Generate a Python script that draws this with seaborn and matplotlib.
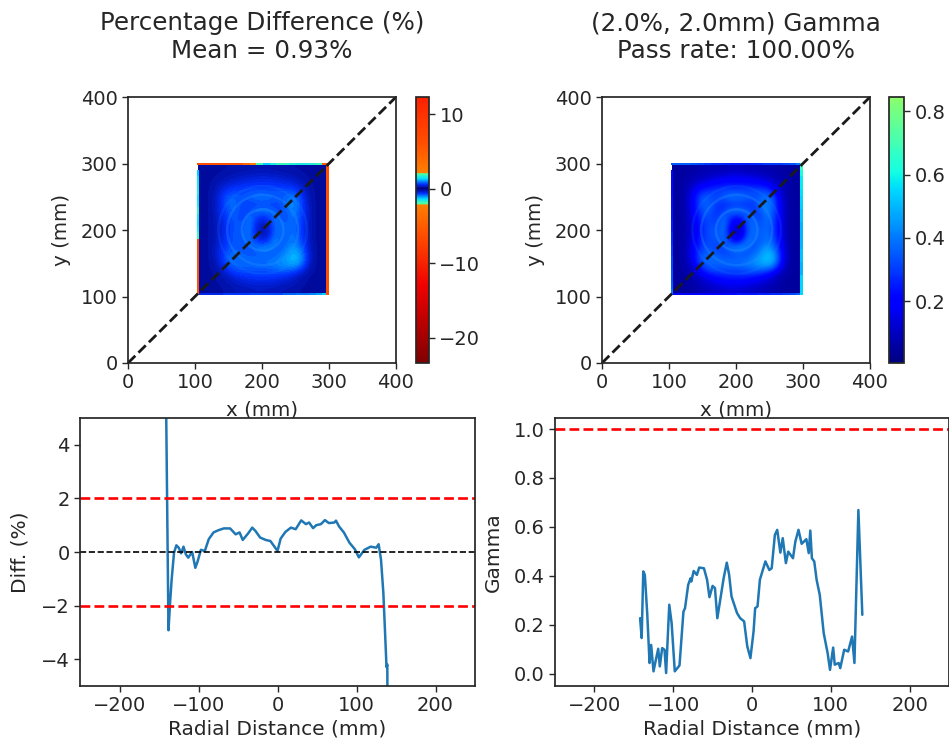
import numpy as np
import pandas as pd
import matplotlib
matplotlib.use("Agg")
import matplotlib.pyplot as plt
from matplotlib.colors import LinearSegmentedColormap
from matplotlib.patches import Circle
import seaborn as sns

sns.set_theme(style="ticks")
plt.rcParams['font.family'] = ['DejaVu Sans']

# radial profiles
diff_x = [-142, -141, -138, -136, -134, -131, -128, -125, -122, -119, -116, -113, -108, -104, -101,
          -97, -92, -87, -81, -75, -68, -60, -53, -48, -44, -37, -32, -28, -22, -15,
          -9, 0, 4, 10, 17, 23, 30, 36, 40, 45, 49, 55, 60, 65, 72,
          74, 78, 84, 91, 98, 103, 110, 118, 125, 128, 131, 134, 136, 138, 139, 140]
diff_y = [12.0, 5.5, -2.92, -1.9, -1.03, -0.03, 0.25, 0.16, -0.05, 0.2, -0.09, -0.21, 0.0, -0.59, -0.34,
          0.08, 0.04, 0.48, 0.73, 0.81, 0.88, 0.88, 0.66, 0.73, 0.45, 0.7, 0.91, 0.79, 0.54, 0.45,
          0.41, 0.04, 0.5, 0.75, 0.91, 0.85, 1.18, 1.04, 1.1, 0.89, 1.0, 1.04, 1.19, 1.08, 1.1,
          1.17, 0.95, 0.73, 0.35, 0.1, -0.2, 0.08, 0.2, 0.16, 0.29, -0.28, -1.53, -2.9, -4.3, -4.2, -12.0]

gamma_x = [-142, -140, -138, -136, -133, -130, -128, -125, -122, -119, -117, -114, -111, -109, -105,
           -102, -98, -92, -89, -87, -85, -81, -78, -77, -74, -70, -67, -61, -57, -54,
           -50, -47, -44, -41, -36, -32, -29, -26, -19, -15, -10, -6, -2, 2, 4,
           7, 10, 17, 22, 25, 29, 32, 36, 39, 43, 46, 52, 55, 59, 63,
           69, 72, 74, 76, 79, 82, 86, 91, 96, 99, 103, 105, 110, 112, 117,
           122, 127, 130, 135, 140]
gamma_y = [0.227, 0.146, 0.418, 0.404, 0.248, 0.044, 0.118, 0.01, 0.057, 0.102, 0.03, 0.105, 0.098, 0.003, 0.282,
           0.207, 0.01, 0.034, 0.166, 0.254, 0.268, 0.363, 0.39, 0.377, 0.42, 0.404, 0.434, 0.431, 0.384, 0.313,
           0.359, 0.35, 0.227, 0.288, 0.39, 0.454, 0.404, 0.316, 0.248, 0.227, 0.214, 0.112, 0.064, 0.173, 0.268,
           0.275, 0.384, 0.459, 0.424, 0.431, 0.567, 0.588, 0.495, 0.554, 0.452, 0.499, 0.472, 0.54, 0.588, 0.531,
           0.55, 0.493, 0.585, 0.472, 0.459, 0.384, 0.322, 0.166, 0.084, 0.016, 0.107, 0.037, 0.044, 0.023, 0.098,
           0.091, 0.152, 0.044, 0.669, 0.241]

# maps, top row is y=300, 10 mm spacing, hundredths
gamma_map = [
    [5, 5, 6, 6, 7, 8, 8, 8, 8, 9, 9, 9, 8, 8, 8, 7, 7, 6, 6, 5, 5],
    [5, 6, 6, 7, 8, 9, 10, 11, 12, 13, 13, 13, 12, 11, 10, 9, 8, 7, 6, 6, 5],
    [5, 6, 7, 9, 11, 13, 15, 17, 19, 20, 20, 20, 19, 18, 16, 14, 11, 8, 7, 6, 5],
    [5, 6, 8, 13, 18, 21, 24, 25, 26, 26, 26, 26, 26, 26, 25, 23, 18, 12, 8, 6, 5],
    [5, 6, 9, 17, 26, 30, 30, 31, 33, 34, 34, 34, 33, 33, 34, 34, 27, 16, 8, 6, 5],
    [5, 6, 10, 20, 31, 36, 33, 32, 34, 38, 38, 37, 35, 33, 36, 40, 35, 20, 9, 6, 5],
    [5, 6, 10, 20, 31, 37, 34, 29, 27, 28, 29, 29, 28, 30, 38, 42, 36, 22, 10, 6, 5],
    [5, 6, 10, 19, 29, 36, 33, 27, 30, 38, 40, 39, 34, 29, 34, 42, 36, 22, 10, 6, 5],
    [5, 6, 9, 18, 26, 33, 31, 29, 38, 30, 24, 28, 38, 32, 31, 39, 34, 22, 10, 6, 5],
    [5, 6, 9, 16, 24, 31, 32, 31, 40, 24, 15, 20, 36, 37, 33, 38, 33, 21, 10, 6, 5],
    [5, 6, 9, 15, 23, 30, 34, 33, 40, 20, 9, 14, 34, 39, 34, 38, 32, 21, 10, 6, 5],
    [5, 6, 9, 16, 24, 30, 34, 34, 38, 22, 11, 16, 36, 38, 35, 39, 33, 22, 10, 6, 5],
    [5, 6, 9, 17, 25, 31, 33, 33, 38, 30, 20, 28, 42, 35, 35, 40, 36, 24, 11, 6, 5],
    [5, 6, 10, 19, 27, 33, 33, 30, 32, 40, 42, 44, 37, 33, 39, 45, 41, 27, 12, 6, 5],
    [5, 6, 10, 20, 30, 36, 36, 34, 31, 32, 35, 34, 33, 38, 44, 50, 48, 32, 13, 6, 5],
    [5, 6, 9, 19, 32, 38, 38, 38, 37, 36, 36, 37, 39, 43, 47, 52, 50, 34, 13, 6, 5],
    [5, 6, 8, 15, 26, 34, 35, 36, 36, 37, 37, 38, 40, 42, 44, 46, 42, 26, 10, 6, 5],
    [5, 6, 7, 10, 18, 26, 30, 30, 30, 30, 30, 31, 32, 33, 32, 29, 23, 14, 8, 6, 5],
    [5, 5, 6, 8, 11, 15, 19, 22, 24, 25, 25, 25, 24, 22, 19, 16, 12, 8, 6, 5, 5],
    [5, 5, 6, 7, 9, 11, 13, 15, 16, 17, 17, 17, 16, 14, 13, 11, 9, 7, 6, 5, 5],
    [5, 5, 5, 6, 7, 9, 10, 11, 12, 13, 13, 12, 11, 10, 9, 8, 7, 6, 5, 5, 5],
]
diff_map = [
    [12, 12, 14, 15, 16, 18, 19, 20, 20, 21, 22, 21, 20, 19, 18, 17, 16, 14, 13, 12, 12],
    [12, 14, 15, 17, 20, 22, 25, 27, 29, 31, 32, 31, 30, 27, 25, 22, 20, 17, 15, 14, 12],
    [12, 14, 17, 22, 27, 32, 37, 41, 45, 47, 48, 48, 46, 43, 39, 34, 27, 20, 16, 14, 12],
    [12, 15, 20, 31, 43, 50, 56, 59, 61, 62, 62, 62, 61, 61, 58, 54, 43, 29, 19, 15, 12],
    [12, 15, 22, 40, 60, 70, 70, 72, 76, 79, 79, 78, 76, 76, 78, 80, 63, 38, 19, 15, 12],
    [12, 15, 24, 46, 72, 84, 77, 74, 79, 88, 88, 86, 81, 77, 84, 94, 82, 46, 21, 15, 12],
    [12, 15, 24, 46, 72, 86, 79, 67, 62, 65, 67, 67, 65, 70, 90, 100, 84, 51, 24, 15, 12],
    [12, 15, 24, 44, 67, 84, 77, 62, 70, 88, 94, 91, 79, 67, 79, 98, 84, 51, 24, 15, 12],
    [12, 15, 22, 42, 60, 77, 72, 67, 88, 70, 55, 65, 88, 74, 72, 91, 79, 51, 24, 15, 12],
    [12, 15, 22, 37, 55, 72, 74, 72, 94, 55, 34, 46, 84, 86, 77, 88, 77, 49, 24, 15, 12],
    [12, 15, 22, 34, 53, 70, 79, 77, 94, 46, 20, 32, 79, 91, 79, 88, 74, 49, 24, 15, 12],
    [12, 15, 22, 37, 55, 70, 79, 79, 88, 50, 25, 37, 84, 88, 81, 91, 77, 51, 24, 15, 12],
    [12, 15, 22, 39, 58, 72, 77, 77, 88, 70, 46, 65, 98, 81, 81, 94, 84, 55, 26, 15, 12],
    [12, 15, 24, 44, 62, 77, 77, 70, 74, 94, 98, 103, 86, 77, 91, 106, 96, 62, 28, 15, 12],
    [12, 15, 24, 46, 70, 84, 84, 79, 72, 74, 81, 79, 77, 88, 103, 118, 113, 74, 30, 15, 12],
    [12, 15, 22, 44, 74, 88, 88, 88, 86, 84, 84, 86, 91, 100, 110, 122, 118, 79, 30, 15, 12],
    [12, 15, 19, 34, 60, 79, 81, 84, 84, 86, 86, 88, 94, 98, 103, 108, 98, 60, 24, 15, 12],
    [12, 15, 17, 24, 42, 60, 70, 70, 70, 70, 70, 72, 74, 77, 74, 67, 53, 32, 19, 15, 12],
    [12, 12, 15, 19, 26, 34, 44, 51, 55, 58, 58, 58, 55, 51, 44, 37, 27, 19, 15, 12, 12],
    [12, 12, 15, 17, 22, 26, 30, 34, 37, 39, 39, 39, 37, 32, 30, 26, 22, 17, 15, 12, 12],
    [12, 12, 12, 15, 17, 22, 24, 26, 27, 30, 30, 27, 26, 24, 22, 19, 17, 15, 12, 12, 12],
]

# thin borders of the square, 20 cells each (left and right run top to bottom)
diff_top = [6.0, 6.0, 6.0, 6.0, 6.0, 6.0, 6.0, 4.0, 2.2, 1.9, 1.3, 1.6, 1.8, 1.8, 1.7, 1.6, 1.6, 1.7, 1.8, 5.0]
diff_right = [6.0] * 20
diff_left = [1.3, 1.5, 1.6, 1.7, 1.5, 1.6, 1.8, 1.6, 1.5, 1.7, 1.9, 6.0, 6.0, 6.0, 6.0, 6.0, 6.0, 6.0, 6.0, 6.0]
diff_bottom = [0.5, 0.5, 0.5, 0.5, 0.6, 0.6, 0.6, 0.6, 0.7, 0.7, 0.7, 0.7, 0.7, 0.8, 0.8, 0.9, 0.9, 1.0, 1.1, 1.3]
gamma_top = [0.36, 0.36, 0.36, 0.34, 0.32, 0.30, 0.28, 0.28, 0.27, 0.26, 0.26, 0.26, 0.27, 0.28, 0.30, 0.30, 0.30, 0.32, 0.34, 0.40]
gamma_right = [0.68, 0.62, 0.58, 0.58, 0.56, 0.55, 0.54, 0.52, 0.52, 0.50, 0.50, 0.50, 0.50, 0.52, 0.52, 0.50, 0.50, 0.55, 0.55, 0.55]
gamma_left = [0.22, 0.22, 0.22, 0.22, 0.23, 0.23, 0.24, 0.24, 0.26, 0.26, 0.28, 0.28, 0.30, 0.30, 0.32, 0.32, 0.34, 0.34, 0.36, 0.40]
gamma_bottom = [0.18, 0.18, 0.18, 0.18, 0.20, 0.20, 0.20, 0.20, 0.22, 0.22, 0.24, 0.24, 0.24, 0.26, 0.26, 0.28, 0.28, 0.30, 0.32, 0.36]

# faint rings around the middle of the square, mm
ring_radius = [31, 53, 66]
ring_alpha = [0.4, 0.32, 0.15]

diff_vmin, diff_vmax = -23.4, 12.3
gamma_vmin, gamma_vmax = 0.005, 0.845

# custom colormaps, stops picked from the colorbars
diff_stops = [(-23.4, '#7f0000'), (-13, '#f00000'), (-6, '#ff5000'), (-2.15, '#ff7f00'), (-2.0, '#50ffa0'),
              (-1.4, '#00e0ff'), (-0.6, '#0030ff'), (0, '#00007f'), (0.6, '#0030ff'), (1.4, '#00e0ff'),
              (2.0, '#50ffa0'), (2.15, '#ff7f00'), (6, '#ff5000'), (12.3, '#ff2000')]
diff_cmap = LinearSegmentedColormap.from_list(
    'diff', [((v - diff_vmin) / (diff_vmax - diff_vmin), c) for v, c in diff_stops], N=512)
gamma_cmap = LinearSegmentedColormap.from_list(
    'gamma', plt.get_cmap('jet')(np.linspace(0, 0.52, 128)), N=256)

W, H = 949, 742


def box(left, top, right, bottom):
    return [left / W, 1 - bottom / H, (right - left) / W, (bottom - top) / H]


def draw_map(ax, cax, grid, top, right, left, bottom, cmap, vmin, vmax, title, cticks):
    opts = dict(cmap=cmap, vmin=vmin, vmax=vmax, aspect='auto')
    im = ax.imshow(np.array(grid) * 0.01, extent=[105, 295, 105, 297], origin='upper',
                   interpolation='bicubic', **opts)
    ax.imshow([top], extent=[103, 299, 297, 300], interpolation='nearest', **opts)
    ax.imshow([bottom], extent=[103, 299, 103, 105], interpolation='nearest', **opts)
    ax.imshow(np.array(left)[:, None], extent=[103, 105, 103, 290], interpolation='nearest', **opts)
    ax.imshow(np.array(right)[:, None], extent=[295, 299, 103, 300], interpolation='nearest', **opts)
    for r, a in zip(ring_radius, ring_alpha):
        ax.add_patch(Circle((201, 200), r, fill=False, ec='#2090ff', lw=1.8, alpha=a))
    ax.plot([0, 400], [0, 400], 'k--', lw=2)
    ax.set_xlim(0, 400)
    ax.set_ylim(0, 400)
    ax.set_xticks([0, 100, 200, 300, 400])
    ax.set_yticks([0, 100, 200, 300, 400])
    ax.set_xlabel('x (mm)', fontsize=14.3, labelpad=6)
    ax.set_ylabel('y (mm)', fontsize=14.3, labelpad=7)
    ax.set_title(title, fontsize=17.7, pad=28)
    ax.tick_params(labelsize=14, length=4.5, width=1, pad=3)
    cb = fig.colorbar(im, cax=cax, ticks=cticks)
    cb.ax.tick_params(labelsize=14, length=4.5, width=1, pad=3)


def draw_profile(ax, x, y, ylabel, yticks, ylim):
    sns.lineplot(data=pd.DataFrame({'r': x, 'v': y}), x='r', y='v', ax=ax, color='#1f77b4',
                 lw=1.8, sort=False, estimator=None, errorbar=None)
    ax.set_xlim(-250, 250)
    ax.set_ylim(*ylim)
    ax.set_xticks([-200, -100, 0, 100, 200])
    ax.set_yticks(yticks)
    ax.set_xlabel('Radial Distance (mm)', fontsize=14.5, labelpad=3)
    ax.set_ylabel(ylabel, fontsize=14.5, labelpad=8)
    ax.tick_params(labelsize=14, length=4.5, width=1, pad=3)


fig = plt.figure(figsize=(9.49, 7.42), dpi=100)

ax1 = fig.add_axes(box(128, 97, 396, 363))
cax1 = fig.add_axes(box(416, 97, 429, 363))
ax2 = fig.add_axes(box(602, 97, 870, 363))
cax2 = fig.add_axes(box(889, 97, 904, 363))
draw_map(ax1, cax1, diff_map, diff_top, diff_right, diff_left, diff_bottom, diff_cmap, diff_vmin, diff_vmax,
         'Percentage Difference (%)\nMean = 0.93%', [-20, -10, 0, 10])
draw_map(ax2, cax2, gamma_map, gamma_top, gamma_right, gamma_left, gamma_bottom, gamma_cmap, gamma_vmin,
         gamma_vmax, '(2.0%, 2.0mm) Gamma\nPass rate: 100.00%', [0.2, 0.4, 0.6, 0.8])

ax3 = fig.add_axes(box(80, 418, 475, 686))
draw_profile(ax3, diff_x, diff_y, 'Diff. (%)', [-4, -2, 0, 2, 4], (-5, 5))
ax3.axhline(2, color='red', ls='--', lw=1.9)
ax3.axhline(-2, color='red', ls='--', lw=1.9)
ax3.axhline(0, color='black', ls='--', lw=1.2)

ax4 = fig.add_axes(box(555, 418, 949, 686))
draw_profile(ax4, gamma_x, gamma_y, 'Gamma', [0, 0.2, 0.4, 0.6, 0.8, 1.0], (-0.05, 1.045))
ax4.axhline(1, color='red', ls='--', lw=1.9)

fig.savefig('out.png', dpi=100)
